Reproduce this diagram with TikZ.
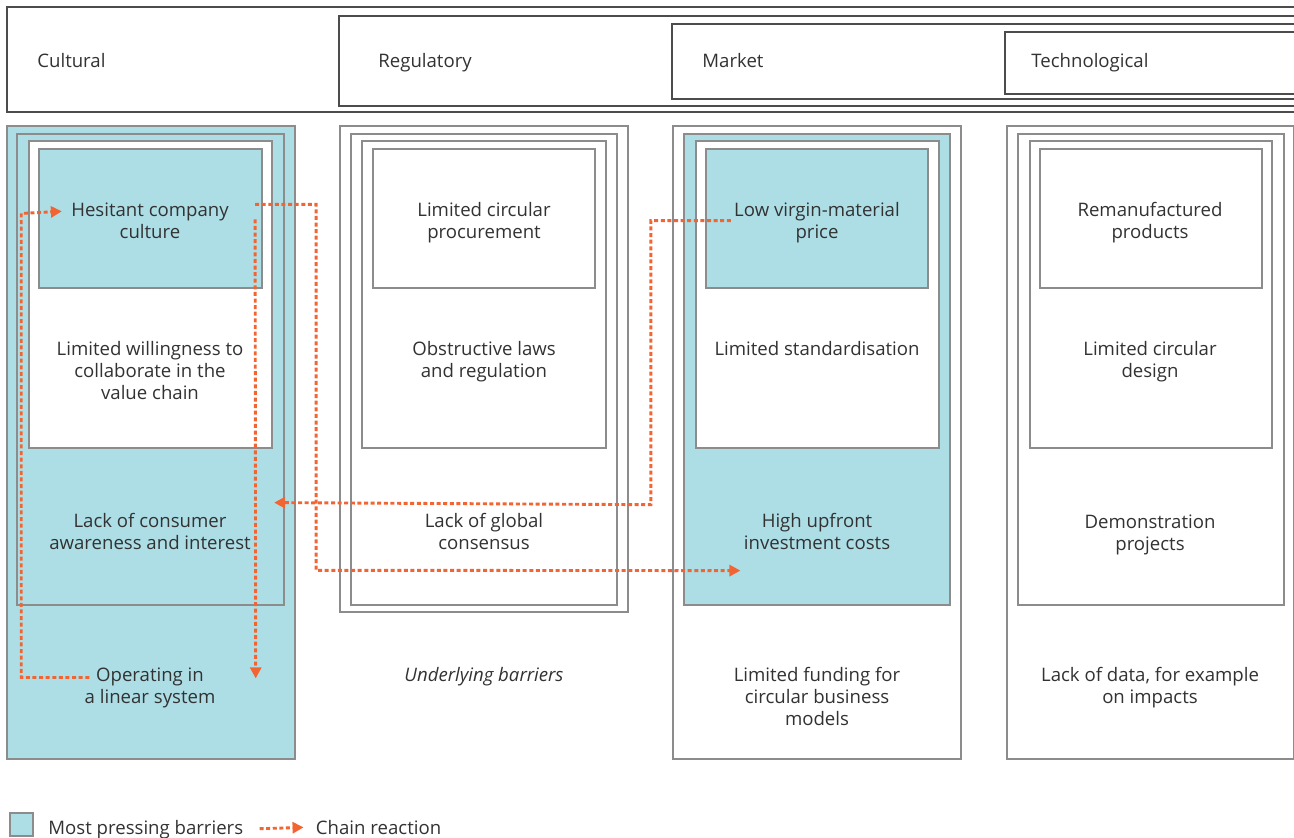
\documentclass[tikz,border=0pt]{standalone}
\usepackage{fontspec}
\setmainfont{Open Sans}
\usetikzlibrary{arrows.meta, calc, positioning}
\definecolor{pressblue}{RGB}{173,222,230}
\definecolor{edgegray}{RGB}{140,140,140}
\definecolor{chainorange}{RGB}{242,101,50}
\definecolor{textgray}{RGB}{50,50,50}

\begin{document}
\begin{tikzpicture}[
    x=0.5pt, y=-0.5pt,
    % Define styles for consistency
    header/.style={draw=black!70, line width=0.6pt},
    header_label/.style={anchor=base west, inner sep=0pt, font=\fontsize{9.3}{11}\selectfont, text=textgray},
    plainbox/.style={draw=edgegray, line width=0.7pt, fill=white},
    pressbox/.style={plainbox, fill=pressblue},
    barrier/.style={anchor=north, inner sep=0pt, align=center, font=\fontsize{9.3}{11}\selectfont, text=textgray},
    legend_label/.style={inner sep=0pt, font=\fontsize{9.3}{11}\selectfont, text=textgray},
    chain/.style={-{Triangle[length=5.5pt, width=5.5pt]}, draw=chainorange, line width=1.45pt, dash pattern=on 2pt off 1.3pt}
]
    \useasboundingbox (0,0) rectangle (1294,838);

    % ---------------------------------------------------------
    % 1. Header (nested categories, open to the right)
    % ---------------------------------------------------------
    \draw[header] (1294,7) -- (7,7) -- (7,112) -- (1294,112);
    \draw[header] (1294,16) -- (339,16) -- (339,106) -- (1294,106);
    \draw[header] (1294,24) -- (672,24) -- (672,99) -- (1294,99);
    \draw[header] (1294,32) -- (1005,32) -- (1005,94) -- (1294,94);

    \node[header_label] (cultural) at (37,68) {Cultural};
    \node[header_label] (regulatory) at (378,68) {Regulatory};
    \node[header_label] (market) at (702,68) {Market};
    \node[header_label] (technological) at (1031,68) {Technological};

    % ---------------------------------------------------------
    % 2. The columns of barriers
    % ---------------------------------------------------------

    % --- Cultural ---
    \begin{scope}[shift={(7,126)}]
        \filldraw[pressbox] (0,0) rectangle (288,633);
        \filldraw[pressbox] (10,8) rectangle (277,479);
        \filldraw[plainbox] (22,15) rectangle (265,322);
        \filldraw[pressbox] (32,23) rectangle (255,162);

        \node[barrier] (hes) at (143,76) {Hesitant company\\culture};
        \node[barrier] (will) at (143,215) {Limited willingness to\\collaborate in the\\value chain};
        \node[barrier] (lack) at (143,387) {Lack of consumer\\awareness and interest};
        \node[barrier] (op) at (143,541) {Operating in\\a linear system};
    \end{scope}

    % --- Regulatory ---
    \begin{scope}[shift={(340,126)}]
        \filldraw[plainbox] (0,0) rectangle (288,486);
        \filldraw[plainbox] (11,8) rectangle (277,479);
        \filldraw[plainbox] (22,15) rectangle (266,322);
        \filldraw[plainbox] (33,23) rectangle (255,162);

        \node[barrier] (proc) at (144,76) {Limited circular\\procurement};
        \node[barrier] (laws) at (144,215) {Obstructive laws\\and regulation};
        \node[barrier] (cons) at (144,387) {Lack of global\\consensus};
        \node[barrier, font=\fontsize{9.3}{11}\selectfont\itshape] (under) at (144,541) {Underlying barriers};
    \end{scope}

    % --- Market ---
    \begin{scope}[shift={(673,126)}]
        \filldraw[plainbox] (0,0) rectangle (288,633);
        \filldraw[pressbox] (11,8) rectangle (277,479);
        \filldraw[plainbox] (23,15) rectangle (266,322);
        \filldraw[pressbox] (33,23) rectangle (255,162);

        \node[barrier] (low) at (144,76) {Low virgin-material\\price};
        \node[barrier] (std) at (144,215) {Limited standardisation};
        \node[barrier] (hi) at (144,387) {High upfront\\investment costs};
        \node[barrier] (fund) at (144,541) {Limited funding for\\circular business\\models};
    \end{scope}

    % --- Technological ---
    \begin{scope}[shift={(1007,126)}]
        \filldraw[plainbox] (0,0) rectangle (287,633);
        \filldraw[plainbox] (11,8) rectangle (277,479);
        \filldraw[plainbox] (23,15) rectangle (265,322);
        \filldraw[plainbox] (33,23) rectangle (255,162);

        \node[barrier] (reman) at (143,76) {Remanufactured\\products};
        \node[barrier] (design) at (143,215) {Limited circular\\design};
        \node[barrier] (demo) at (143,388) {Demonstration\\projects};
        \node[barrier] (data) at (143,541) {Lack of data, for example\\on impacts};
    \end{scope}

    % ---------------------------------------------------------
    % 3. Chain reactions
    % ---------------------------------------------------------
    \draw[chain] ($(op.west)+(5,-10)$) -| ++(-68,-464) -- ($(hes.west)+(-9,-9)$);
    \draw[chain] ($(hes.east)+(26,-16)$) -| ++(61,366) -- ($(hi.west)+(-3,39)$);
    \draw[chain] ($(hes.east)+(26,-1)$) -- ($(op.east)+(40,-9)$);
    \draw[chain] ($(low.west)+(-3,-2)$) -| ++(-80,284) -- ($(lack.east)+(23,-29)$);

    % ---------------------------------------------------------
    % 4. Legend
    % ---------------------------------------------------------
    \node[pressbox, minimum size=11.5pt, inner sep=0pt] (legsq) at (21.5,824.5) {};
    \node[legend_label, anchor=base west] (mpb) at (48,834) {Most pressing barriers};
    \node[legend_label, base right=36pt of mpb] (cr) {Chain reaction};
    \draw[chain, shorten <=8pt, shorten >=6pt] (mpb.east) -- (cr.west);
\end{tikzpicture}
\end{document}
